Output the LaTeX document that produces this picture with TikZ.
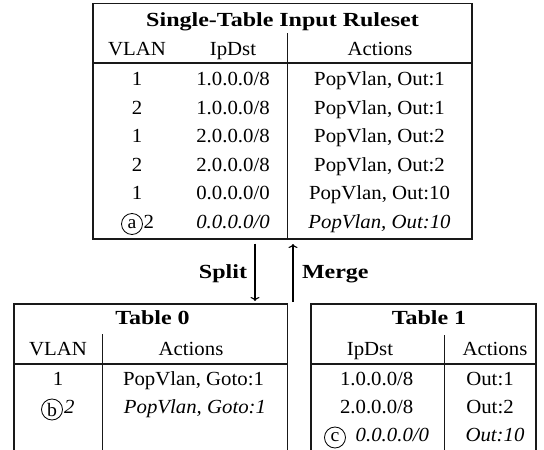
\documentclass[tikz,border=0pt]{standalone}
\usepackage{fontspec}
\setmainfont{Liberation Serif}[
  UprightFeatures={FakeStretch=1.04},
  ItalicFeatures={FakeStretch=1.04},
  BoldFeatures={FakeStretch=1.2}]
\usetikzlibrary{arrows.meta}

\begin{document}
\begin{tikzpicture}[x=1pt,y=-1pt,
  every node/.style={inner sep=0pt, outer sep=0pt, font=\fontsize{20}{24}\selectfont},
  rule/.style={line width=1.1pt, draw=black!90},
  txt/.style={anchor=base},
  txtw/.style={anchor=base west},
  hd/.style={anchor=base, font=\fontsize{20}{24}\selectfont\bfseries},
  ital/.style={font=\fontsize{20}{24}\selectfont\itshape},
  tagcirc/.style={circle, draw, line width=0.85pt, minimum size=21pt, inner sep=0pt,
                  font=\fontsize{19}{22}\selectfont},
  flow/.style={line width=1.1pt, -{To[length=4pt,width=9pt]}}
]
\useasboundingbox (0,0) rectangle (544,450);

% ---------- single-table ruleset ----------
\node[rule, draw, minimum width=379pt, minimum height=235.5pt, anchor=north west] (ruleset) at (93,3.5) {};
\draw[rule] (93,63) -- (472,63);
\draw[rule] (287.5,33) -- (287.5,239);

\node[hd] (rtitle) at (282.5,26.5) {Single-Table Input Ruleset};
\node[txt] (rh1) at (137,55) {VLAN};
\node[txt] (rh2) at (233,55) {IpDst};
\node[txt] (rh3) at (380,55) {Actions};

\node[txt] (r1a) at (137,85.5) {1};
\node[txt] (r1b) at (233,85.5) {1.0.0.0/8};
\node[txt] (r1c) at (379.5,85.5) {PopVlan, Out:1};
\node[txt] (r2a) at (137,114) {2};
\node[txt] (r2b) at (233,114) {1.0.0.0/8};
\node[txt] (r2c) at (379.5,114) {PopVlan, Out:1};
\node[txt] (r3a) at (137,142.5) {1};
\node[txt] (r3b) at (233,142.5) {2.0.0.0/8};
\node[txt] (r3c) at (379.5,142.5) {PopVlan, Out:2};
\node[txt] (r4a) at (137,171) {2};
\node[txt] (r4b) at (233,171) {2.0.0.0/8};
\node[txt] (r4c) at (379.5,171) {PopVlan, Out:2};
\node[txt] (r5a) at (137,199.5) {1};
\node[txt] (r5b) at (233,199.5) {0.0.0.0/0};
\node[txt] (r5c) at (379.5,199.5) {PopVlan, Out:10};
\node[tagcirc] (tagA) at (132,224) {a};
\node[txtw] (r6a) at (143.5,228) {2};
\node[txt, ital] (r6b) at (233,228) {0.0.0.0/0};
\node[txt, ital] (r6c) at (379.5,228) {PopVlan, Out:10};

% ---------- split / merge ----------
\coordinate (splitA) at (255,243.5);
\coordinate (splitB) at (255,301);
\coordinate (mergeA) at (293,302);
\coordinate (mergeB) at (293,244);
\draw[flow] (splitA) -- (splitB);
\draw[flow] (mergeA) -- (mergeB);
\node[hd, anchor=base east] (split) at (247,278) {Split};
\node[hd, anchor=base west] (merge) at (302,278) {Merge};

% ---------- table 0 ----------
\draw[rule] (14,452) -- (14,304) -- (287.3,304) -- (287.3,452);
\draw[rule] (14,364) -- (287.3,364);
\draw[rule] (102.4,334) -- (102.4,452);
\node[hd] (t0title) at (152.5,324.5) {Table 0};
\node[txt] (t0h1) at (58,355) {VLAN};
\node[txt] (t0h2) at (191,355) {Actions};
\node[txt] (t0r1a) at (58,385) {1};
\node[txt] (t0r1b) at (193.5,385) {PopVlan, Goto:1};
\node[tagcirc] (tagB) at (52,409.5) {b};
\node[txtw, ital] (t0r2a) at (64,413.3) {2};
\node[txt, ital] (t0r2b) at (195,413.3) {PopVlan, Goto:1};

% ---------- table 1 ----------
\draw[rule] (311,452) -- (311,304) -- (536,304) -- (536,452);
\draw[rule] (311,364) -- (536,364);
\draw[rule] (444.5,335) -- (444.5,452);
\node[hd] (t1title) at (429,324.5) {Table 1};
\node[txt] (t1h1) at (370,355) {IpDst};
\node[txt] (t1h2) at (495,355) {Actions};
\node[txt] (t1r1a) at (376.7,385) {1.0.0.0/8};
\node[txt] (t1r1b) at (490,385) {Out:1};
\node[txt] (t1r2a) at (376.7,413.3) {2.0.0.0/8};
\node[txt] (t1r2b) at (490,413.3) {Out:2};
\node[tagcirc] (tagC) at (335,437.5) {c};
\node[txtw, ital] (t1r3a) at (355.7,441.6) {0.0.0.0/0};
\node[txt, ital] (t1r3b) at (495,441.6) {Out:10};
\end{tikzpicture}
\end{document}
